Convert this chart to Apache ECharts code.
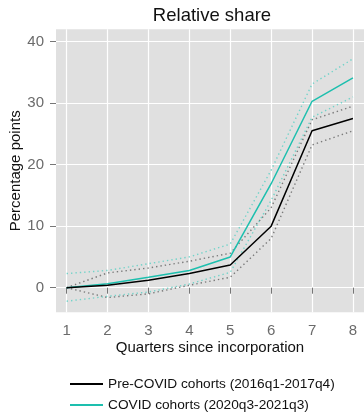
<!DOCTYPE html>
<html>
<head>
<meta charset="utf-8">
<script src="https://cdn.jsdelivr.net/npm/echarts@6/dist/echarts.min.js"></script>
<style>
  html, body { margin: 0; padding: 0; background: #fff; }
  #chart { width: 364px; height: 413px; }
</style>
</head>
<body>
<div id="chart"></div>
<script>
const quarters = [1, 2, 3, 4, 5, 6, 7, 8]
const yTicks = [0, 10, 20, 30, 40]

// Pre-COVID cohorts: estimate and confidence band
const preMean = [0, 0.4, 1.2, 2.3, 3.7, 10.0, 25.5, 27.5]
const preUpper = [0, 2.4, 3.2, 4.3, 5.6, 13.0, 27.3, 29.5]
const preLower = [0, -1.6, -1.0, 0.4, 1.7, 8.0, 23.2, 25.5]

// COVID cohorts: estimate and confidence band
const covMean = [0, 0.65, 1.7, 2.8, 5.0, 16.9, 30.3, 34.1]
const covUpper = [2.3, 2.8, 3.9, 5.0, 7.1, 19.1, 33.1, 37.2]
const covLower = [-2.2, -1.4, -0.7, 0.6, 2.5, 14.2, 27.7, 31.0]

const FONT = 'Liberation Sans, Arial, sans-serif'
const TEAL = '#1dbfae'
const TEAL_LIGHT = '#72d3c9'
const GREY_DOT = '#7a7a7a'

function pairs (ys) {
  return quarters.map((q, i) => [q, ys[i]])
}

function lineSeries (name, ys, color, dotted, z) {
  return {
    name: name,
    type: 'line',
    data: pairs(ys),
    showSymbol: false,
    symbol: 'none',
    silent: true,
    z: z,
    lineStyle: {
      color: color,
      width: dotted ? 1.4 : 1.5,
      type: dotted ? [1.4, 3] : 'solid'
    },
    itemStyle: { color: color }
  }
}

const chart = echarts.init(document.getElementById('chart'), null, { renderer: 'canvas' })

const option = {
  animation: false,
  backgroundColor: '#fff',
  textStyle: { fontFamily: FONT },
  title: {
    text: 'Relative share',
    left: 207,
    textAlign: 'center',
    top: 1,
    textStyle: { fontFamily: FONT, fontSize: 18.5, fontWeight: 'normal', color: '#111' }
  },
  legend: {
    orient: 'vertical',
    left: 65,
    top: 372,
    height: 60,
    itemWidth: 33,
    itemHeight: 2,
    itemGap: 7,
    icon: 'rect',
    data: ['Pre-COVID cohorts (2016q1-2017q4)', 'COVID cohorts (2020q3-2021q3)'],
    textStyle: { fontFamily: FONT, fontSize: 13.7, color: '#111' }
  },
  grid: {
    left: 56,
    right: 0,
    top: 29.3,
    bottom: 100.7,
    show: true,
    backgroundColor: '#e0e0e0',
    borderWidth: 0,
    containLabel: false,
    outerBoundsMode: 'none'
  },
  xAxis: {
    type: 'value',
    min: 0.74,
    max: 8.27,
    name: 'Quarters since incorporation',
    nameLocation: 'middle',
    nameGap: 28,
    nameMoveOverlap: false,
    nameTextStyle: { fontFamily: FONT, fontSize: 15, color: '#111' },
    axisLine: { show: false },
    axisTick: {
      show: true,
      length: 6,
      customValues: quarters,
      lineStyle: { color: '#777', width: 1 }
    },
    axisLabel: {
      customValues: quarters,
      margin: 11,
      fontFamily: FONT,
      fontSize: 15,
      color: '#6b6b6b'
    },
    splitLine: { show: true, lineStyle: { color: '#fff', width: 1.2 } }
  },
  yAxis: {
    type: 'value',
    min: -4,
    max: 42,
    name: 'Percentage points',
    nameLocation: 'middle',
    nameGap: 33,
    nameMoveOverlap: false,
    nameTextStyle: { fontFamily: FONT, fontSize: 15, color: '#111' },
    axisLine: { show: false },
    axisTick: {
      show: true,
      length: 6,
      customValues: yTicks,
      lineStyle: { color: '#777', width: 1 }
    },
    axisLabel: {
      customValues: yTicks,
      margin: 12,
      fontFamily: FONT,
      fontSize: 15,
      color: '#6b6b6b'
    },
    splitLine: { show: true, lineStyle: { color: '#fff', width: 1.2 } }
  },
  series: [
    lineSeries('pre upper', preUpper, GREY_DOT, true, 2),
    lineSeries('pre lower', preLower, GREY_DOT, true, 2),
    lineSeries('cov upper', covUpper, TEAL_LIGHT, true, 2),
    lineSeries('cov lower', covLower, TEAL_LIGHT, true, 2),
    lineSeries('COVID cohorts (2020q3-2021q3)', covMean, TEAL, false, 3),
    lineSeries('Pre-COVID cohorts (2016q1-2017q4)', preMean, '#000', false, 4)
  ]
}

chart.setOption(option)
</script>
</body>
</html>
